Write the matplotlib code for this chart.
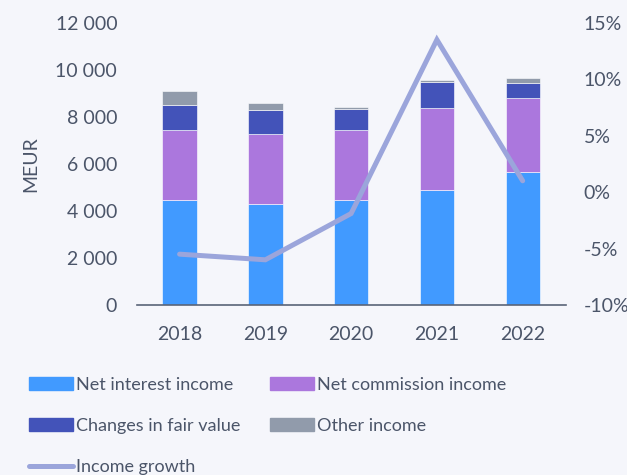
import numpy as np
import matplotlib.pyplot as plt
from matplotlib.lines import Line2D
from matplotlib.patches import Patch
import matplotlib.ticker as mticker

# --- Data (MEUR) ---
years = ["2018", "2019", "2020", "2021", "2022"]
net_interest = [4450, 4290, 4480, 4880, 5640]
net_commission = [3010, 3000, 2950, 3510, 3160]
fair_value = [1060, 1000, 920, 1100, 620]
other_income = [600, 300, 85, 85, 240]
income_growth = [-5.5, -6.0, -1.9, 13.5, 1.0]  # %

# --- Styling ---
bg = "#F5F6FB"
text_col = "#4B5569"
c_nii = "#419AFF"
c_nci = "#AB77DD"
c_fv = "#4353B9"
c_oth = "#919BAB"
c_line = "#9BA5DB"

plt.rcParams["font.family"] = ["Lato", "DejaVu Sans"]

fig = plt.figure(figsize=(6.27, 4.75), dpi=100, facecolor=bg)
ax = fig.add_axes([0.218, 0.358, 0.684, 0.594], facecolor=bg)

x = np.arange(len(years))
w = 0.4
b1 = np.array(net_interest)
b2 = b1 + np.array(net_commission)
b3 = b2 + np.array(fair_value)

kw = dict(width=w, edgecolor="#ffffff", linewidth=0.4)
ax.bar(x, net_interest, color=c_nii, **kw)
ax.bar(x, net_commission, bottom=b1, color=c_nci, **kw)
ax.bar(x, fair_value, bottom=b2, color=c_fv, **kw)
ax.bar(x, other_income, bottom=b3, color=c_oth, **kw)

ax.set_xlim(-0.5, 4.5)
ax.set_ylim(0, 12000)
ax.set_yticks(range(0, 12001, 2000))
ax.yaxis.set_major_formatter(mticker.FuncFormatter(lambda v, _: f"{int(v):,}".replace(",", " ")))
ax.set_xticks(x)
ax.set_xticklabels(years)
ax.tick_params(axis="both", length=0, colors=text_col, labelsize=14)
ax.tick_params(axis="y", pad=14)
ax.tick_params(axis="x", pad=15)
ax.set_ylabel("MEUR", color=text_col, fontsize=14, labelpad=12)

for s in ["top", "right", "left"]:
    ax.spines[s].set_visible(False)
ax.spines["bottom"].set_color("#5A6478")
ax.spines["bottom"].set_linewidth(1.2)

# --- Income growth on right axis ---
ax2 = ax.twinx()
ax2.plot(x, income_growth, color=c_line, linewidth=3.6, solid_capstyle="round",
         solid_joinstyle="miter", zorder=3)
ax2.set_ylim(-10, 15)
ax2.set_yticks(range(-10, 16, 5))
ax2.yaxis.set_major_formatter(mticker.FuncFormatter(lambda v, _: f"{int(v)}%"))
ax2.tick_params(axis="y", length=0, colors=text_col, labelsize=14, pad=13)
for s in ax2.spines.values():
    s.set_visible(False)

# --- Legend ---
handles = [
    Patch(color=c_nii, label="Net interest income"),
    Patch(color=c_fv, label="Changes in fair value"),
    Line2D([0], [0], color=c_line, linewidth=3.6, solid_capstyle="round", label="Income growth"),
    Patch(color=c_nci, label="Net commission income"),
    Patch(color=c_oth, label="Other income"),
]
leg = fig.legend(handles=handles, loc="upper left", bbox_to_anchor=(0.035, 0.222),
                 ncol=2, frameon=False, fontsize=13, handlelength=2.4, handleheight=0.7,
                 handletextpad=0.2, columnspacing=1.65, labelspacing=1.4, borderaxespad=0)
for t in leg.get_texts():
    t.set_color(text_col)

fig.savefig("out.png", dpi=100, facecolor=bg)
